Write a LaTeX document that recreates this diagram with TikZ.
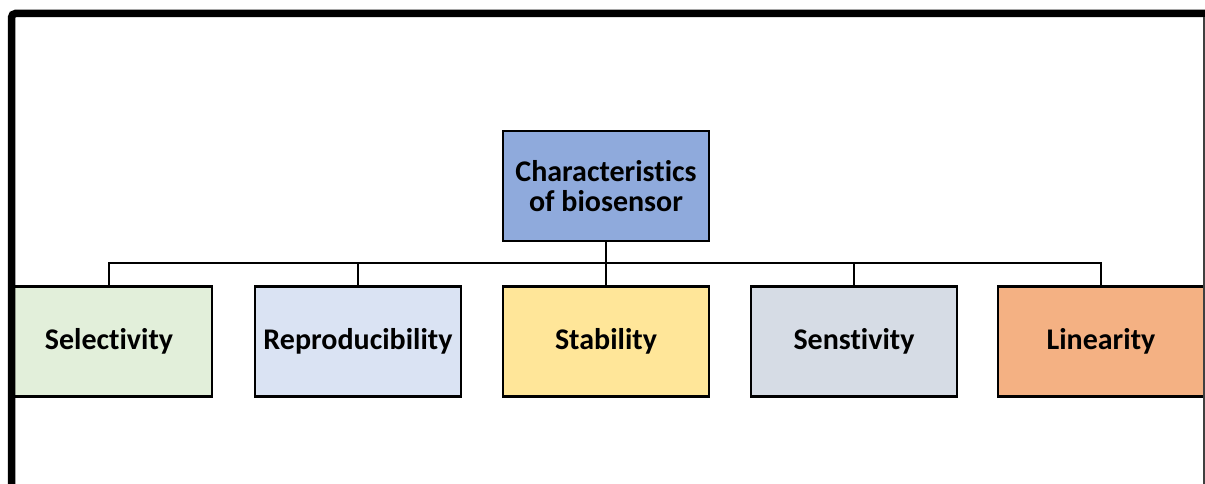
\documentclass[tikz,border=0pt]{standalone}
\usepackage{fontspec}
\setmainfont{Carlito}[Ligatures=NoCommon]
\definecolor{rootfill}{HTML}{8FAADC}
\definecolor{selfill}{HTML}{E2EFDA}
\definecolor{repfill}{HTML}{DAE3F3}
\definecolor{stafill}{HTML}{FFE699}
\definecolor{senfill}{HTML}{D6DCE5}
\definecolor{linfill}{HTML}{F4B183}
\begin{document}
\begin{tikzpicture}[x=1pt,y=-1pt,
  box/.style={draw=black, line width=2.4pt, minimum width=206pt, minimum height=110pt,
    inner sep=0pt, align=center, font=\fontsize{30}{30}\selectfont\bfseries},
  link/.style={draw=black, line width=2pt}]
  \useasboundingbox (0,0) rectangle (1205,484);
  \fill[white] (0,0) rectangle (1205,484);

  % root and children
  \node[box, fill=rootfill] (root) at (606,186) {Characteristics\\of biosensor};
  \node[box, fill=selfill] (sel) at (109,341.5) {Selectivity};
  \node[box, fill=repfill] (rep) at (358,341.5) {Reproducibility};
  \node[box, fill=stafill] (sta) at (606,341.5) {Stability};
  \node[box, fill=senfill] (sen) at (854,341.5) {Senstivity};
  \node[box, fill=linfill] (lin) at (1101,341.5) {Linearity};

  % tree connectors through a common bus
  \coordinate (bus) at (606,263);
  \draw[link] (root.south) -- (bus);
  \foreach \c in {sel,rep,sta,sen,lin} {
    \draw[link] (bus) -| (\c.north);
  }

  % page frame, with a white margin outside it
  \fill[white] (0,0) rectangle (8,484);
  \begin{scope}
    \clip (0,0) rectangle (1205,484);
    \draw[line width=7.5pt, rounded corners=4pt] (11.5,500) -- (11.5,13.5) -- (1215,13.5);
    \draw[line width=2pt, black!75] (1204,17) -- (1204,490);
  \end{scope}
\end{tikzpicture}
\end{document}
